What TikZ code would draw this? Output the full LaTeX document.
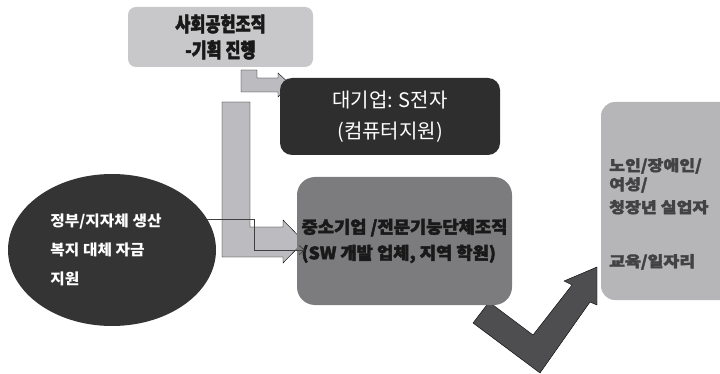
\documentclass[tikz,border=0pt]{standalone}
\usepackage{fontspec}
\setmainfont{Noto Sans CJK KR}
\usetikzlibrary{shapes.geometric,arrows.meta}
\definecolor{plangray}{RGB}{200,200,202}
\definecolor{corpgray}{RGB}{46,46,46}
\definecolor{fundgray}{RGB}{52,52,52}
\definecolor{smegray}{RGB}{124,124,126}
\definecolor{needgray}{RGB}{182,182,184}
\definecolor{checkgray}{RGB}{78,78,80}
\definecolor{blockgray}{RGB}{188,188,192}
\definecolor{needtext}{RGB}{66,66,68}
\definecolor{linkgray}{RGB}{64,64,64}
\begin{document}
\begin{tikzpicture}[
            x=1pt, y=-1pt,
            planbox/.style={fill=plangray, rounded corners=8pt, inner sep=0pt,
                minimum width=185pt, minimum height=60pt, align=center, text=black!90,
                font={\bfseries\addfontfeatures{FakeStretch=0.82,FakeBold=2.5}\fontsize{20}{26}\selectfont}},
            corpbox/.style={fill=corpgray, rounded corners=12pt, inner sep=0pt,
                minimum width=220pt, minimum height=77pt, align=center, text=white,
                font={\fontsize{20}{31}\selectfont}},
            smebox/.style={fill=smegray, rounded corners=18pt, inner sep=0pt,
                minimum width=215pt, minimum height=128pt, align=left, text=black!90,
                font={\bfseries\addfontfeatures{FakeStretch=1.04,FakeBold=2.5}\fontsize{17}{26}\selectfont}},
            needbox/.style={fill=needgray, rounded corners=14pt, inner sep=0pt,
                minimum width=139pt, minimum height=198pt},
            needtxt/.style={anchor=north west, inner sep=0pt, align=left, text=needtext,
                font={\bfseries\addfontfeatures{FakeStretch=1.15,FakeBold=2.5}\fontsize{15}{19}\selectfont}},
            fundell/.style={ellipse, fill=fundgray, inner sep=0pt,
                minimum width=208pt, minimum height=152pt, align=left, text=white,
                font={\bfseries\addfontfeatures{FakeStretch=1.05}\fontsize{15}{29}\selectfont}},
            block/.style={fill=blockgray},
            check/.style={fill=checkgray},
            link/.style={draw=linkgray, line width=0.8pt, -{Straight Barb[length=5pt,width=9pt]}},
        ]
        \useasboundingbox (0,0) rectangle (720,374);

        \filldraw[check] (473,323) -- (489,302) -- (533,335) -- (572,285) -- (564,281)
            -- (597,267) -- (597,305) -- (590,302) -- (540,373) -- cycle;

        \filldraw[block] (241,70) -- (257,70) -- (257,78) -- (278,78) -- (278,73)
            -- (291,85) -- (278,97) -- (278,92) -- (241,92) -- cycle;
        \filldraw[block] (222,102) -- (250,102) -- (250,227) -- (283,227) -- (283,220)
            -- (304,241.5) -- (283,263) -- (283,257) -- (222,257) -- cycle;

        \node[planbox] (plan) at (220.5,37) {사회공헌조직\\-기획 진행};
        \node[corpbox] (corp) at (390,116.5) {대기업: S전자\\(컴퓨터지원)};
        \node[smebox] (sme) at (404.5,241) {중소기업 /전문기능단체조직\\(SW 개발 업체, 지역 학원)};
        \node[needbox] (need) at (670.5,201) {};
        \node[needtxt] (needs) at (609,158) {노인/장애인/\\여성/\\[4pt]청장년 실업자\\[35pt]교육/일자리};
        \node[fundell] (fund) at (112,250) {정부/지자체 생산\hspace*{12pt}\\복지 대체 자금\\지원};

        \coordinate (turn) at (254,250);
        \draw[link] (fund.18) -| (turn) -- ([xshift=8pt]sme.west |- turn);
    \end{tikzpicture}
\end{document}
